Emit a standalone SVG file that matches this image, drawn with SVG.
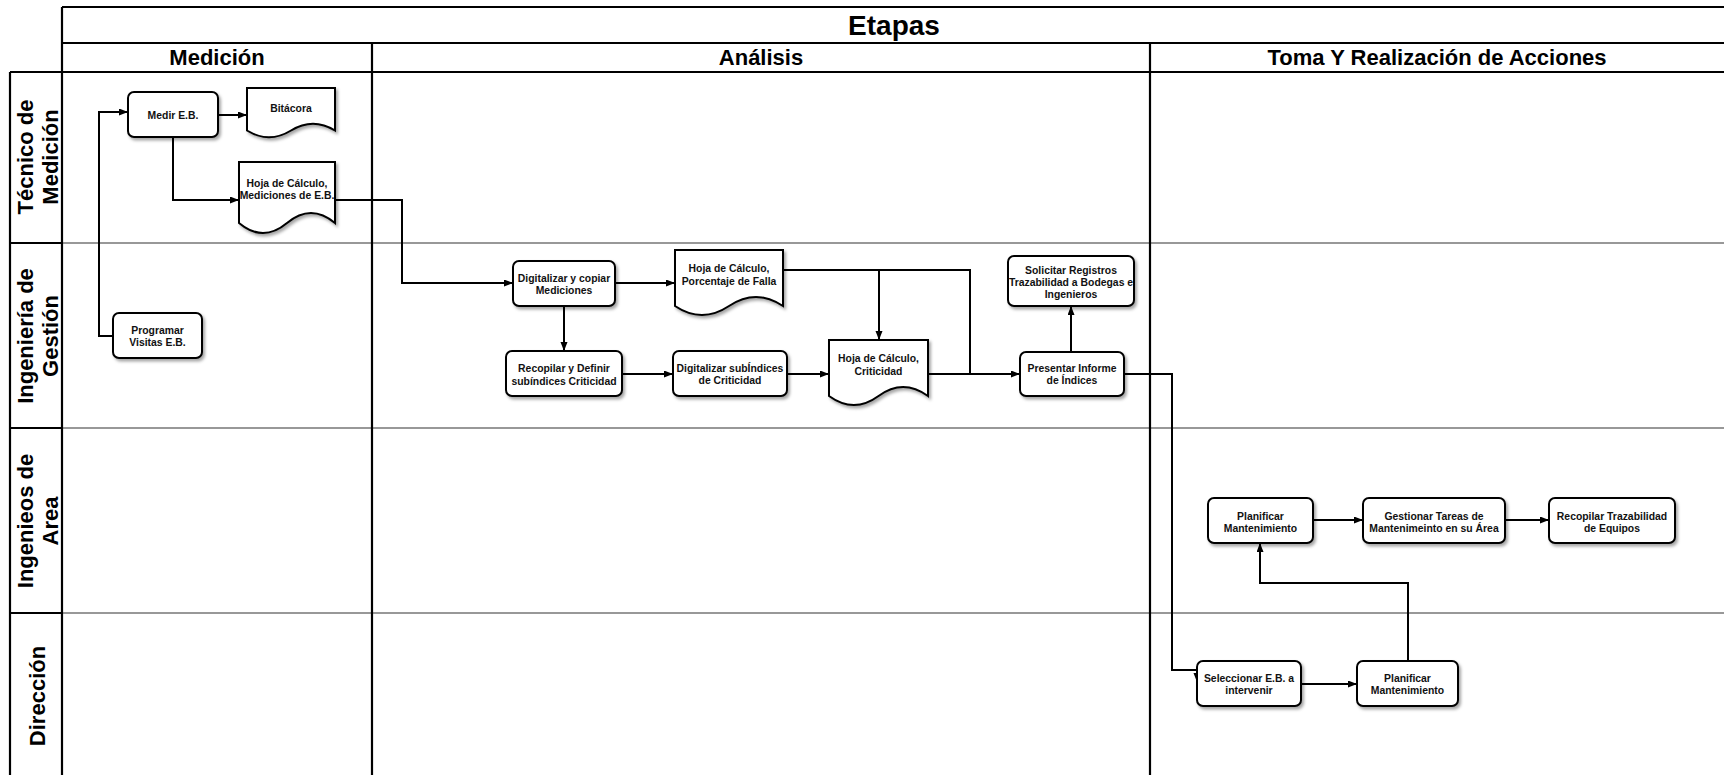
<svg xmlns="http://www.w3.org/2000/svg" width="1724" height="775" viewBox="0 0 1724 775">
<defs>
<filter id="sh" x="-10%" y="-10%" width="130%" height="140%">
<feDropShadow dx="2" dy="2.5" stdDeviation="1.5" flood-color="#000" flood-opacity="0.35"/>
</filter>
<marker id="ar" markerUnits="userSpaceOnUse" markerWidth="10" markerHeight="8" refX="9" refY="3.5" orient="auto">
<path d="M0,0 L9,3.5 L0,7 z" fill="#000"/>
</marker>
<style>
.frame{stroke:#000;stroke-width:2.2;fill:none}
.lane{stroke:#333;stroke-width:1.2;fill:none}
.hd{font-family:"Liberation Sans",Arial,sans-serif;font-weight:bold;fill:#000;text-anchor:middle}
.node rect,.node path{fill:#fff;stroke:#000;stroke-width:2;filter:url(#sh)}
.node text{font-family:"Liberation Sans",Arial,sans-serif;font-weight:bold;font-size:10.4px;fill:#111;text-anchor:middle}
#connectors path{fill:none;stroke:#000;stroke-width:2}
.arr{marker-end:url(#ar)}
</style>
</defs>
<rect width="1724" height="775" fill="#fff"/>
<g id="pool">
<path class="lane" d="M62,243 H1730 M62,428 H1730 M62,613 H1730"/>
<path class="frame" d="M62,7 H1730 M62,43 H1730 M10,72 H1730 M62,7 V780 M10,72 V780 M372,43 V780 M1150,43 V780 M10,243 H62 M10,428 H62 M10,613 H62"/>
<text class="hd" x="894" y="35" font-size="28">Etapas</text>
<text class="hd" x="217" y="65" font-size="22">Medición</text>
<text class="hd" x="761" y="65" font-size="22">Análisis</text>
<text class="hd" x="1437" y="65" font-size="22">Toma Y Realización de Acciones</text>
<g class="hd" font-size="22">
<text transform="translate(33,157) rotate(-90)">Técnico de</text>
<text transform="translate(58,157) rotate(-90)">Medición</text>
<text transform="translate(33,336) rotate(-90)">Ingeniería de</text>
<text transform="translate(58,336) rotate(-90)">Gestión</text>
<text transform="translate(33,521) rotate(-90)">Ingenieos de</text>
<text transform="translate(58,521) rotate(-90)">Area</text>
<text transform="translate(45,696) rotate(-90)">Dirección</text>
</g>
</g>
<g id="connectors">
<path class="arr" d="M113,336 H99 V112 H128"/>
<path class="arr" d="M218,115 H247"/>
<path class="arr" d="M173,137 V200 H239"/>
<path class="arr" d="M335,200 H402 V283 H513"/>
<path class="arr" d="M615,283 H675"/>
<path class="arr" d="M564,306 V351"/>
<path class="arr" d="M622,374 H673"/>
<path class="arr" d="M787,374 H829"/>
<path d="M783,270 H970 V374"/>
<path class="arr" d="M879,270 V340"/>
<path class="arr" d="M928,374 H1020"/>
<path class="arr" d="M1071,352 V306"/>
<path class="arr" d="M1124,374 H1172 V670 H1197 V682"/>
<path class="arr" d="M1301,684 H1357"/>
<path class="arr" d="M1408,661 V583 H1260 V543"/>
<path class="arr" d="M1313,520 H1363"/>
<path class="arr" d="M1505,520 H1549"/>
</g>
<g id="n-medir" class="node"><rect x="128" y="92" width="90" height="45" rx="6"/><text x="173" y="118.5">Medir E.B.</text></g>
<g id="n-bitacora" class="node"><path d="M247,88 H335 V130.5 Q313,117 291,130.5 Q269,144 247,130.5 Z"/><text x="291" y="112">Bitácora</text></g>
<g id="n-hojamed" class="node"><path d="M239,162 H335 V223 Q311,203 287,223 Q263,243 239,223 Z"/><text x="287" y="187">Hoja de Cálculo,</text><text x="287" y="199">Mediciones de E.B.</text></g>
<g id="n-programar" class="node"><rect x="113" y="313" width="89" height="45" rx="6"/><text x="157.5" y="334">Programar</text><text x="157.5" y="346">Visitas E.B.</text></g>
<g id="n-digcop" class="node"><rect x="513" y="261" width="102" height="45" rx="6"/><text x="564" y="282">Digitalizar y copiar</text><text x="564" y="294">Mediciones</text></g>
<g id="n-hojapor" class="node"><path d="M675,250 H783 V306 Q756,288 729,306 Q702,324 675,306 Z"/><text x="729" y="272">Hoja de Cálculo,</text><text x="729" y="285">Porcentaje de Falla</text></g>
<g id="n-recdef" class="node"><rect x="506" y="351" width="116" height="45" rx="6"/><text x="564" y="372">Recopilar y Definir</text><text x="564" y="385">subíndices Criticidad</text></g>
<g id="n-digsub" class="node"><rect x="673" y="351" width="114" height="45" rx="6"/><text x="730" y="372">Digitalizar subÍndices</text><text x="730" y="384">de Criticidad</text></g>
<g id="n-hojacrit" class="node"><path d="M829,340 H928 V396 Q903,378 878.5,396 Q854,414 829,396 Z"/><text x="878.5" y="362">Hoja de Cálculo,</text><text x="878.5" y="375">Criticidad</text></g>
<g id="n-presentar" class="node"><rect x="1020" y="352" width="104" height="44" rx="6"/><text x="1072" y="372">Presentar Informe</text><text x="1072" y="384">de Índices</text></g>
<g id="n-solicitar" class="node"><rect x="1008" y="256" width="126" height="50" rx="6"/><text x="1071" y="274">Solicitar Registros</text><text x="1071" y="286">Trazabilidad a Bodegas e</text><text x="1071" y="298">Ingenieros</text></g>
<g id="n-planarea" class="node"><rect x="1208" y="498" width="105" height="45" rx="6"/><text x="1260.5" y="520">Planificar</text><text x="1260.5" y="532">Mantenimiento</text></g>
<g id="n-gestionar" class="node"><rect x="1363" y="498" width="142" height="45" rx="6"/><text x="1434" y="520">Gestionar Tareas de</text><text x="1434" y="532">Mantenimeinto en su Área</text></g>
<g id="n-recopilar" class="node"><rect x="1549" y="498" width="126" height="45" rx="6"/><text x="1612" y="520">Recopilar Trazabilidad</text><text x="1612" y="532">de Equipos</text></g>
<g id="n-seleccionar" class="node"><rect x="1197" y="661" width="104" height="45" rx="6"/><text x="1249" y="682">Seleccionar E.B. a</text><text x="1249" y="694">intervenir</text></g>
<g id="n-plandir" class="node"><rect x="1357" y="661" width="101" height="45" rx="6"/><text x="1407.5" y="682">Planificar</text><text x="1407.5" y="694">Mantenimiento</text></g>
</svg>
